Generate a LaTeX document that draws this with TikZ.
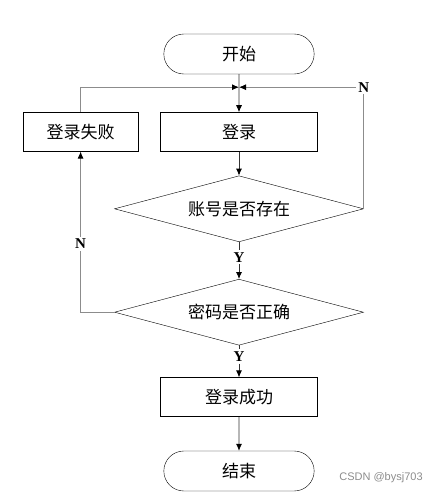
\documentclass[tikz,border=0pt]{standalone}
\usepackage{fontspec}
\setmainfont{Liberation Serif}
\newfontfamily\cjk{Noto Sans CJK SC}
\newfontfamily\wmfont{Liberation Sans}
\usetikzlibrary{positioning,arrows.meta,shapes.geometric,shapes.misc}

\tikzset{
  term/.style={draw,rounded rectangle,minimum width=157pt,minimum height=40pt,font=\cjk\fontsize{17}{17}\selectfont},
  proc/.style={draw,rectangle,minimum width=157pt,minimum height=39pt,font=\cjk\fontsize{17}{17}\selectfont},
  decide/.style={draw,diamond,aspect=3.77,inner sep=0pt,minimum width=249pt,minimum height=66pt,font=\cjk\fontsize{17}{17}\selectfont},
  yn/.style={inner sep=2pt,font=\bfseries\fontsize{15}{15}\selectfont},
  flow/.style={line width=0.8pt,black!80},
  back/.style={line width=0.8pt,black!45},
}

\begin{document}
\begin{tikzpicture}[>={Latex[length=7pt,width=6pt,black]},line join=miter]
\useasboundingbox (0,0) rectangle (444pt,-496pt);
\node[term] (start) at (239pt,-54pt) {开始};
\node[proc] (login) [below=38pt of start] {登录};
\node[proc,minimum width=115pt] (fail) [left=22pt of login] {登录失败};
\node[decide] (acct) [below=24pt of login] {账号是否存在};
\node[yn] (y1) [below=8pt of acct] {Y};
\node[decide] (pwd) [below=37pt of acct] {密码是否正确};
\node[yn] (y2) [below=4pt of pwd] {Y};
\node[proc] (ok) [below=32pt of pwd] {登录成功};
\node[term] (stop) [below=34pt of ok] {结束};
\coordinate (j) at ([yshift=-13pt]start.south);
\node[yn] (nR) at (acct.east |- j) {N};
\node[yn] (nL) at (fail.south |- 0,-244pt) {N};
\node[text=black!45,font=\wmfont\fontsize{11}{11}\selectfont] (wm) at (381pt,-478pt) {CSDN @bysj703};

% main path
\draw[flow,->] (start) -- (login);
\draw[flow,->] (login) -- (acct);
\draw[flow] (acct) -- (y1);
\draw[flow,->] (y1) -- (pwd);
\draw[flow] (pwd) -- (y2);
\draw[flow,->] (y2) -- (ok);
\draw[flow,->] (ok) -- (stop);

% loops back
\draw[back] (acct.east) -- (nR.south);
\draw[back,->] (nR.west) -- (j);
\draw[back] (pwd.west) -| (nL.north |- pwd.west) -- (nL.south);
\draw[back,->] (nL.north) -- (fail.south);
\draw[back,->] (fail.north) |- (j);
\end{tikzpicture}
\end{document}
